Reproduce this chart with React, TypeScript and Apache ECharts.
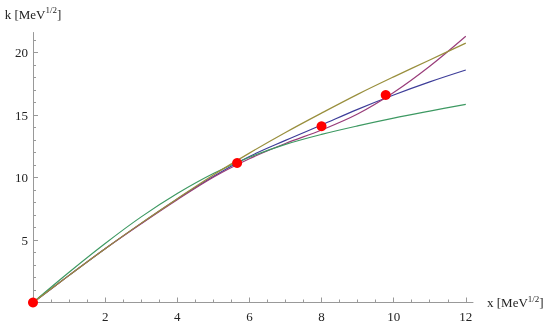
import React, { useEffect, useRef } from "react";
import * as echarts from "echarts";

const xs = [0, 1, 2, 3, 4, 5, 6, 7, 8, 9, 10, 11, 12];
const blueK = [0, 2.17, 4.3, 6.33, 8.28, 10.08, 11.68, 12.97, 14.2, 15.45, 16.6, 17.65, 18.6];
const purpleK = [0, 2.17, 4.3, 6.3, 8.22, 10.02, 11.5, 12.72, 13.8, 15.08, 16.8, 18.9, 21.3];
const oliveK = [0, 2.17, 4.3, 6.35, 8.3, 10.2, 11.95, 13.6, 15.15, 16.65, 18.05, 19.4, 20.75];
const greenK = [0, 2.42, 4.72, 6.85, 8.72, 10.32, 11.62, 12.65, 13.45, 14.13, 14.75, 15.31, 15.85];
const pointX = [0, 5.66, 8.0, 9.78];
const pointK = [0, 11.16, 14.1, 16.6];

const xMajorTicks = [2, 4, 6, 8, 10, 12];
const xMinorTicks = [0.5, 1, 1.5, 2.5, 3, 3.5, 4.5, 5, 5.5, 6.5, 7, 7.5, 8.5, 9, 9.5, 10.5, 11, 11.5];
const yMajorTicks = [5, 10, 15, 20];
const yMinorTicks = [1, 2, 3, 4, 6, 7, 8, 9, 11, 12, 13, 14, 16, 17, 18, 19, 21];

const AXIS_COLOR = "#999999";
const TEXT_COLOR = "#222222";
const FONT = "'Liberation Serif', 'DejaVu Serif', serif";

const richName = {
  n: { fontFamily: FONT, fontSize: 13, color: TEXT_COLOR },
  s: { fontFamily: FONT, fontSize: 9, color: TEXT_COLOR, padding: [0, 0, 8, 0] },
};

export default function App() {
  const ref = useRef<HTMLDivElement>(null);
  useEffect(() => {
    if (!ref.current) return;
    const chart = echarts.init(ref.current, undefined, { renderer: "svg" });
    const line = (k: number[], color: string) => ({
      type: "line",
      data: xs.map((x, i) => [x, k[i]]),
      smooth: 0.35,
      showSymbol: false,
      lineStyle: { width: 1.2, color },
      itemStyle: { color },
    });
    const baseX = { type: "value", min: 0, max: 12.2, position: "bottom", splitLine: { show: false } };
    const baseY = { type: "value", min: 0, max: 21.6, position: "left", splitLine: { show: false } };
    chart.setOption({
      animation: false,
      grid: { left: 33, right: 77, top: 32.5, bottom: 23.5, containLabel: false },
      xAxis: [
        {
          ...baseX,
          axisLine: { show: true, lineStyle: { color: AXIS_COLOR, width: 1 } },
          axisTick: { show: true, inside: true, length: 5, customValues: xMajorTicks, lineStyle: { color: AXIS_COLOR } },
          axisLabel: { customValues: xMajorTicks, margin: 7, fontFamily: FONT, fontSize: 13, color: TEXT_COLOR },
          name: "{n|x [MeV}{s|1/2}{n|]}",
          nameLocation: "end",
          nameGap: 14,
          nameTextStyle: { rich: richName },
        },
        {
          ...baseX,
          axisLine: { show: false },
          axisTick: { show: true, inside: true, length: 3, customValues: xMinorTicks, lineStyle: { color: AXIS_COLOR } },
          axisLabel: { show: false },
        },
      ],
      yAxis: [
        {
          ...baseY,
          axisLine: { show: true, lineStyle: { color: AXIS_COLOR, width: 1 } },
          axisTick: { show: true, inside: true, length: 5, customValues: yMajorTicks, lineStyle: { color: AXIS_COLOR } },
          axisLabel: { customValues: yMajorTicks, margin: 5, fontFamily: FONT, fontSize: 13, color: TEXT_COLOR },
          name: "{n|k [MeV}{s|1/2}{n|]}",
          nameLocation: "end",
          nameGap: 10,
          nameTextStyle: { rich: richName },
        },
        {
          ...baseY,
          axisLine: { show: false },
          axisTick: { show: true, inside: true, length: 3, customValues: yMinorTicks, lineStyle: { color: AXIS_COLOR } },
          axisLabel: { show: false },
        },
      ],
      series: [
        line(blueK, "#3d3d99"),
        line(purpleK, "#993d7a"),
        line(greenK, "#3d9962"),
        line(oliveK, "#998f3d"),
        {
          type: "scatter",
          data: pointX.map((x, i) => [x, pointK[i]]),
          symbolSize: 10,
          itemStyle: { color: "#ff0000", opacity: 1 },
          z: 10,
        },
      ],
    });
    return () => chart.dispose();
  }, []);
  return <div ref={ref} style={{ position: "fixed", left: 0, top: 0, width: 550, height: 326 }} />;
}
